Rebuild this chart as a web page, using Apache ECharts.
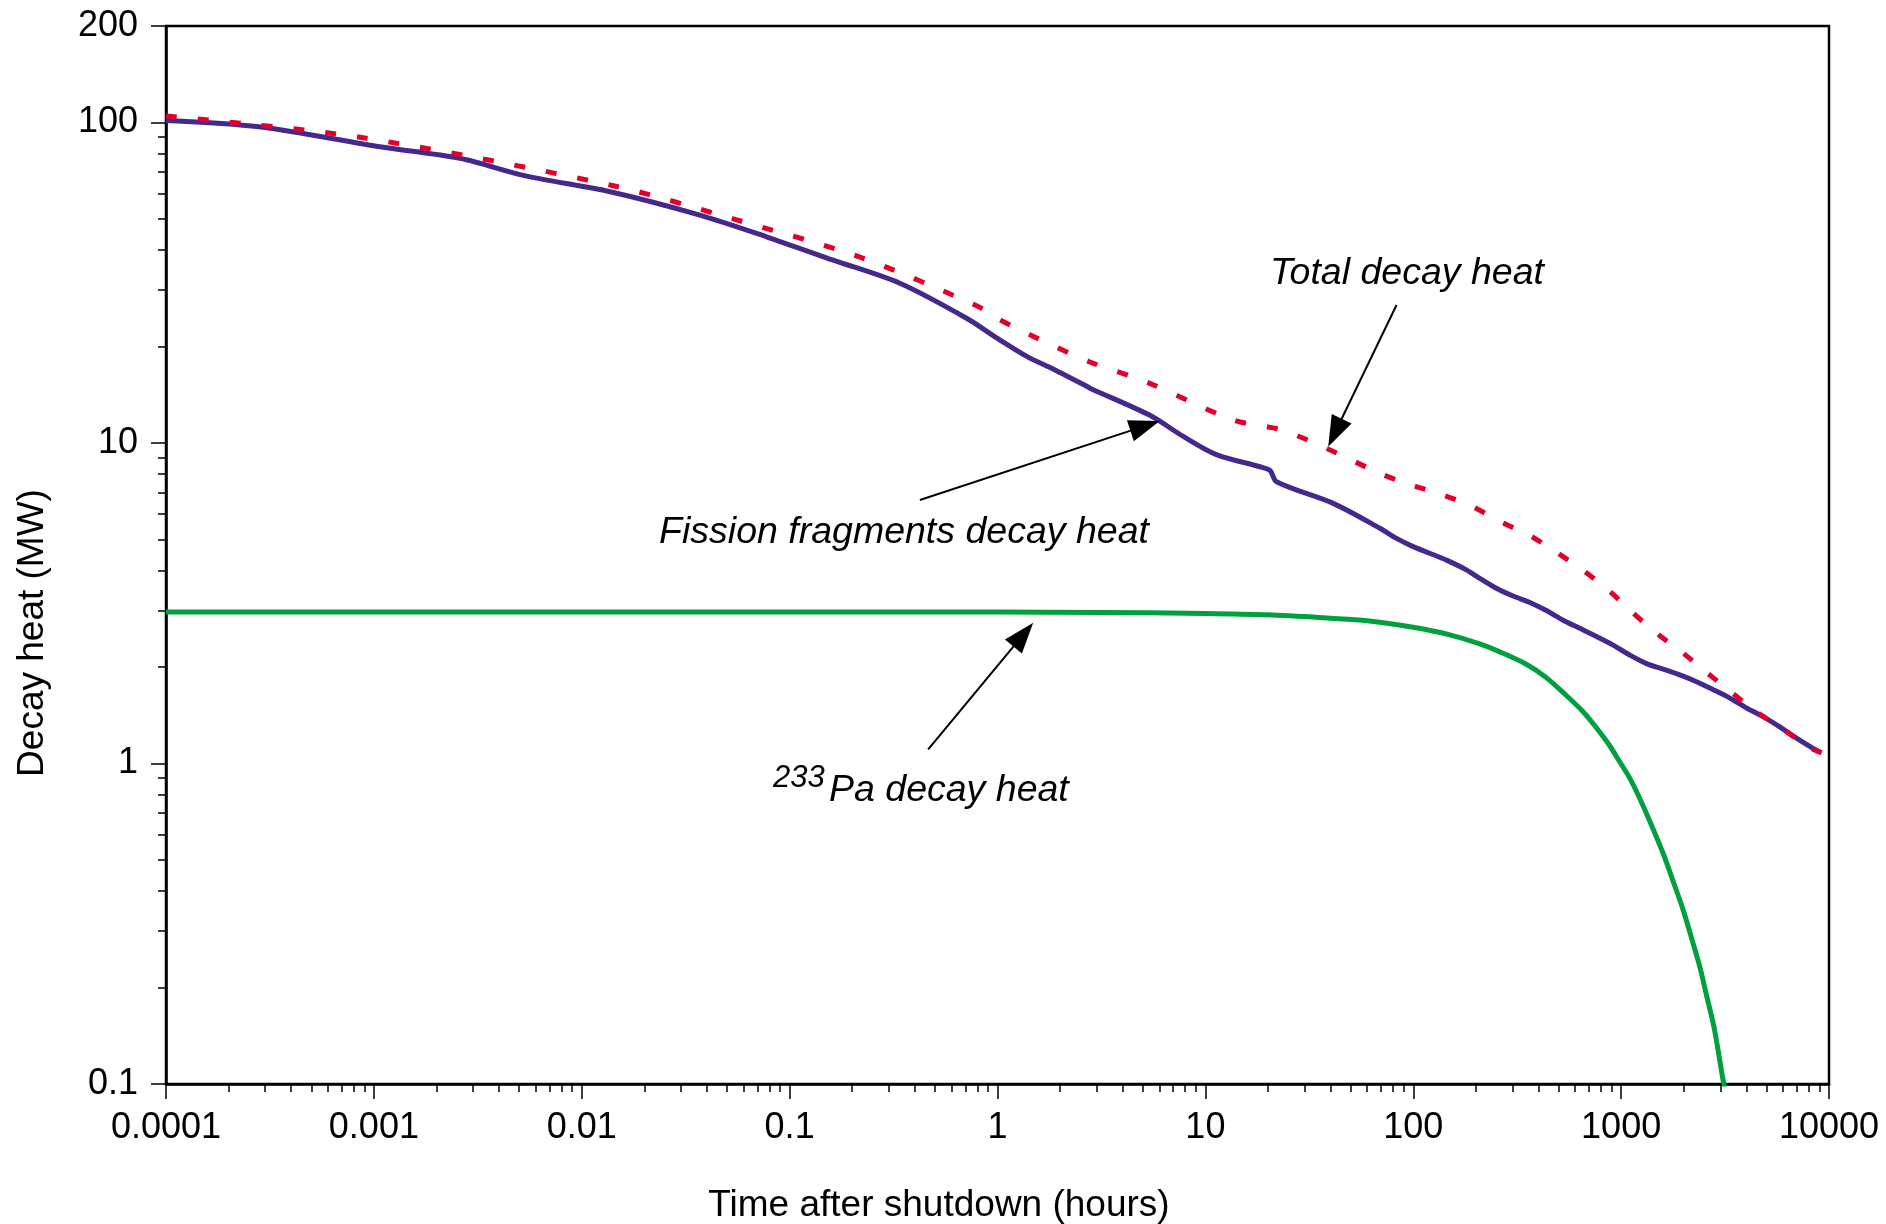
<!DOCTYPE html>
<html>
<head>
<meta charset="utf-8">
<script src="https://cdn.jsdelivr.net/npm/echarts@6/dist/echarts.min.js"></script>
<style>html,body{margin:0;padding:0;background:#fff}#c{width:1886px;height:1224px}</style>
</head>
<body>
<div id="c"></div>
<script>
// ---- data (hours, MW) ----
const fissionTime  = [0.0001, 0.00028, 0.00107, 0.00259, 0.00543, 0.0137, 0.037, 0.0774, 0.162, 0.339, 0.71, 1.0, 1.41, 1.79, 2.7, 2.8, 5.41, 7.8, 11.3, 18.3, 20.5, 22.0, 41.2, 69.1, 83.1, 99.9, 120, 144.5, 180, 209, 251, 302, 364, 437, 526, 633, 761, 915, 1101, 1325, 1592, 1916, 2305, 2770, 3333, 4010, 4819, 5798, 6976, 8385, 9199];
const fissionValue = [101.5, 97, 84, 77.3, 68, 60.8, 51.4, 44, 37.2, 31.5, 24.5, 21.2, 18.5, 17.2, 15.0, 14.8, 12.2, 10.5, 9.2, 8.43, 8.2, 7.57, 6.48, 5.42, 5.04, 4.75, 4.53, 4.31, 4.02, 3.78, 3.52, 3.33, 3.18, 3.00, 2.80, 2.64, 2.49, 2.34, 2.18, 2.05, 1.97, 1.89, 1.80, 1.70, 1.60, 1.49, 1.40, 1.30, 1.20, 1.115, 1.08];

const totalTime  = [0.0001, 0.00086, 0.0142, 0.0536, 0.218, 0.794, 1.03, 1.49, 2.78, 5.21, 13.6, 23, 38.3, 69.1, 98.1, 139, 193, 263, 364, 489, 657, 866, 1121, 1468, 1951, 2574, 3396, 4397, 5906, 7929, 9204];
const totalValue = [104.7, 89.9, 63.5, 50, 38, 26.8, 24.2, 21.5, 17.9, 15.5, 11.8, 11.0, 9.62, 8.04, 7.39, 6.88, 6.33, 5.68, 5.14, 4.56, 4.00, 3.48, 2.98, 2.56, 2.23, 1.925, 1.667, 1.46, 1.29, 1.128, 1.08];

const paTime  = [0.0001, 1, 3, 10, 20, 40, 60, 100, 150, 209, 261, 350, 438, 545, 650, 762, 870, 951, 1100, 1250, 1374, 1600, 1800, 1986, 2200, 2400, 2570, 2800, 3076, 3150];
const paValue = [2.97, 2.97, 2.96, 2.94, 2.91, 2.84, 2.79, 2.66, 2.52, 2.36, 2.23, 2.04, 1.85, 1.63, 1.46, 1.29, 1.15, 1.05, 0.90, 0.76, 0.66, 0.52, 0.42, 0.35, 0.28, 0.23, 0.19, 0.15, 0.105, 0.097];

// annotation arrows: [tailTime, tailValue, headTime, headValue]
const arrowTotal   = [83.1, 26.95, 42.0, 10.76];
const arrowFission = [0.4233, 6.64, 5.13, 11.31];
const arrowPa      = [0.464, 1.107, 1.331, 2.525];

// tick values
const xMajorTicks = [0.0001, 0.001, 0.01, 0.1, 1, 10, 100, 1000, 10000];
const yMajorTicks = [0.1, 1, 10, 100, 200];
const multipliers = [2, 3, 4, 5, 6, 7, 8, 9];

const xMinorTicks = [];
[0.0001, 0.001, 0.01, 0.1, 1, 10, 100, 1000].forEach(d => multipliers.forEach(m => xMinorTicks.push(+(d * m).toPrecision(6))));
const yMinorTicks = [];
[0.1, 1, 10].forEach(d => multipliers.forEach(m => yMinorTicks.push(+(d * m).toPrecision(6))));

const pairs = (a, b) => a.map((t, i) => [t, b[i]]);
const FONT = "'Liberation Sans', Helvetica, Arial, sans-serif";
const fmt = v => String(+(+v).toPrecision(6));

const chart = echarts.init(document.getElementById('c'), null, {renderer: 'canvas'});

const majorAxisCommon = {
  type: 'log', logBase: 10,
  axisLine: {show: true, lineStyle: {color: '#000', width: 2.5}},
  splitLine: {show: false},
  minorTick: {show: false},
  minorSplitLine: {show: false}
};

chart.setOption({
  animation: false,
  backgroundColor: '#fff',
  grid: {left: 166, right: 57, top: 26, bottom: 140, show: true, borderColor: '#000', borderWidth: 2.5, backgroundColor: 'transparent', containLabel: false, outerBoundsMode: 'none'},
  xAxis: [
    Object.assign({}, majorAxisCommon, {
      min: 0.0001, max: 10000, position: 'bottom',
      axisTick: {show: true, inside: false, length: 15, lineStyle: {color: '#000', width: 1.5}, customValues: xMajorTicks},
      axisLabel: {show: true, customValues: xMajorTicks, formatter: fmt, fontSize: 36, color: '#000', fontFamily: FONT, margin: 26, showMinLabel: true, showMaxLabel: true}
    }),
    Object.assign({}, majorAxisCommon, {
      min: 0.0001, max: 10000, position: 'bottom',
      axisLine: {show: false},
      axisTick: {show: true, inside: false, length: 8, lineStyle: {color: '#000', width: 1.5}, customValues: xMinorTicks},
      axisLabel: {show: false}
    })
  ],
  yAxis: [
    Object.assign({}, majorAxisCommon, {
      min: 0.1, max: 200, position: 'left',
      axisTick: {show: true, inside: false, length: 15, lineStyle: {color: '#000', width: 1.5}, customValues: yMajorTicks},
      axisLabel: {show: true, customValues: yMajorTicks, formatter: fmt, fontSize: 36, color: '#000', fontFamily: FONT, margin: 28, showMinLabel: true, showMaxLabel: true}
    }),
    Object.assign({}, majorAxisCommon, {
      min: 0.1, max: 200, position: 'left',
      axisLine: {show: false},
      axisTick: {show: true, inside: false, length: 8, lineStyle: {color: '#000', width: 1.5}, customValues: yMinorTicks},
      axisLabel: {show: false}
    })
  ],
  series: [
    {
      name: '233Pa decay heat', type: 'line', xAxisIndex: 0, yAxisIndex: 0,
      data: pairs(paTime, paValue), showSymbol: false, smooth: 0.3, clip: true,
      lineStyle: {color: '#00A03E', width: 5}, silent: true,
      markLine: {
        silent: true, symbol: ['none', 'triangle'], symbolSize: [22, 31],
        lineStyle: {color: '#000', width: 2, type: 'solid'},
        itemStyle: {color: '#000'},
        label: {show: false}, emphasis: {disabled: true}, animation: false,
        data: [arrowTotal, arrowFission, arrowPa].map(a => [
          {coord: [a[0], a[1]], symbol: 'none'},
          {coord: [a[2], a[3]], symbol: 'triangle'}
        ])
      }
    },
    {
      name: 'Fission fragments decay heat', type: 'line', xAxisIndex: 0, yAxisIndex: 0,
      data: pairs(fissionTime, fissionValue), showSymbol: false, smooth: 0.3, clip: true,
      lineStyle: {color: '#45288B', width: 5}, silent: true
    },
    {
      name: 'Total decay heat', type: 'line', xAxisIndex: 0, yAxisIndex: 0,
      data: pairs(totalTime, totalValue), showSymbol: false, smooth: 0.3, clip: true,
      lineStyle: {color: '#E2002B', width: 5, type: [11, 21], cap: 'butt'}, silent: true
    }
  ],
  graphic: [
    {type: 'text', x: 939, y: 1206, style: {text: 'Time after shutdown (hours)', font: '37px ' + FONT, fill: '#000', align: 'center', verticalAlign: 'middle'}},
    {type: 'text', x: 33, y: 633, rotation: Math.PI / 2, style: {text: 'Decay heat (MW)', font: '37px ' + FONT, fill: '#000', align: 'center', verticalAlign: 'middle'}},
    {type: 'text', x: 1407, y: 274, style: {text: 'Total decay heat', font: 'italic 37.5px ' + FONT, fill: '#000', align: 'center', verticalAlign: 'middle'}},
    {type: 'text', x: 904, y: 533, style: {text: 'Fission fragments decay heat', font: 'italic 37.5px ' + FONT, fill: '#000', align: 'center', verticalAlign: 'middle'}},
    {type: 'text', x: 773, y: 778, style: {text: '233', font: 'italic 31px ' + FONT, fill: '#000', align: 'left', verticalAlign: 'middle'}},
    {type: 'text', x: 829, y: 791, style: {text: 'Pa decay heat', font: 'italic 37.5px ' + FONT, fill: '#000', align: 'left', verticalAlign: 'middle'}}
  ]
});
</script>
</body>
</html>
